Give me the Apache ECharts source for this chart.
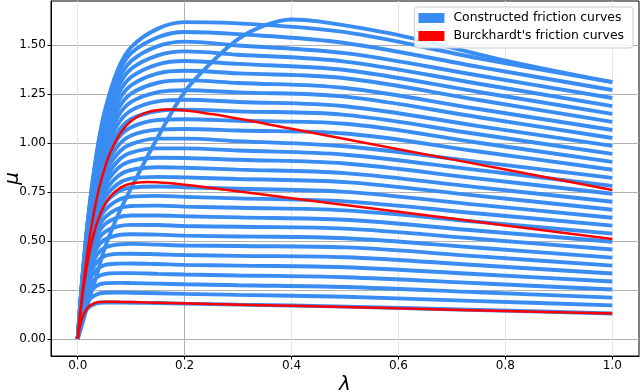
<!DOCTYPE html>
<html>
<head>
<meta charset="utf-8">
<script src="https://cdn.jsdelivr.net/npm/echarts@6/dist/echarts.min.js"></script>
<style>
  html, body { margin: 0; padding: 0; background: #fff; }
  #chart { width: 640px; height: 392px; }
</style>
</head>
<body>
<div id="chart"></div>
<script>
// slip grid shared by the constructed (blue) curves
const lamBlue = [0, 0.005, 0.01, 0.02, 0.035, 0.05, 0.075, 0.1, 0.15, 0.2, 0.3, 0.5, 0.75, 1.0]
// one row per constructed friction curve (bottom to top)
const blueCurves = [
  [0, 0.071, 0.116, 0.160, 0.181, 0.186, 0.186, 0.185, 0.183, 0.180, 0.175, 0.165, 0.148, 0.130],
  [0, 0.083, 0.137, 0.196, 0.227, 0.236, 0.237, 0.236, 0.233, 0.230, 0.225, 0.215, 0.193, 0.171],
  [0, 0.094, 0.157, 0.229, 0.271, 0.284, 0.286, 0.285, 0.282, 0.279, 0.274, 0.265, 0.238, 0.211],
  [0, 0.103, 0.175, 0.260, 0.313, 0.331, 0.336, 0.336, 0.332, 0.329, 0.324, 0.315, 0.284, 0.252],
  [0, 0.111, 0.191, 0.288, 0.353, 0.377, 0.384, 0.385, 0.382, 0.378, 0.374, 0.366, 0.330, 0.293],
  [0, 0.118, 0.204, 0.314, 0.391, 0.422, 0.434, 0.435, 0.432, 0.428, 0.424, 0.417, 0.376, 0.334],
  [0, 0.124, 0.216, 0.338, 0.427, 0.465, 0.482, 0.485, 0.481, 0.477, 0.474, 0.467, 0.421, 0.374],
  [0, 0.129, 0.226, 0.358, 0.461, 0.506, 0.529, 0.534, 0.532, 0.527, 0.523, 0.514, 0.465, 0.415],
  [0, 0.131, 0.233, 0.375, 0.490, 0.544, 0.574, 0.582, 0.581, 0.576, 0.572, 0.563, 0.510, 0.456],
  [0, 0.135, 0.241, 0.392, 0.519, 0.583, 0.620, 0.630, 0.630, 0.626, 0.620, 0.608, 0.552, 0.496],
  [0, 0.137, 0.247, 0.406, 0.545, 0.617, 0.664, 0.678, 0.680, 0.675, 0.669, 0.656, 0.597, 0.537],
  [0, 0.141, 0.255, 0.423, 0.573, 0.654, 0.708, 0.726, 0.730, 0.725, 0.717, 0.702, 0.640, 0.578],
  [0, 0.144, 0.262, 0.438, 0.598, 0.687, 0.750, 0.772, 0.778, 0.774, 0.766, 0.750, 0.684, 0.618],
  [0, 0.146, 0.267, 0.450, 0.623, 0.719, 0.791, 0.819, 0.827, 0.824, 0.816, 0.800, 0.730, 0.659],
  [0, 0.148, 0.271, 0.460, 0.641, 0.748, 0.830, 0.862, 0.876, 0.873, 0.864, 0.846, 0.773, 0.700],
  [0, 0.150, 0.276, 0.472, 0.664, 0.778, 0.870, 0.907, 0.924, 0.923, 0.914, 0.895, 0.818, 0.741],
  [0, 0.152, 0.280, 0.481, 0.683, 0.805, 0.907, 0.950, 0.972, 0.972, 0.961, 0.940, 0.861, 0.781],
  [0, 0.155, 0.287, 0.496, 0.706, 0.836, 0.946, 0.994, 1.022, 1.022, 1.009, 0.983, 0.903, 0.822],
  [0, 0.158, 0.293, 0.507, 0.727, 0.865, 0.984, 1.038, 1.068, 1.071, 1.063, 1.048, 0.956, 0.863],
  [0, 0.160, 0.298, 0.518, 0.747, 0.893, 1.022, 1.080, 1.117, 1.121, 1.113, 1.098, 1.001, 0.903],
  [0, 0.162, 0.302, 0.528, 0.765, 0.917, 1.055, 1.122, 1.163, 1.170, 1.161, 1.143, 1.044, 0.944],
  [0, 0.166, 0.310, 0.543, 0.789, 0.949, 1.095, 1.166, 1.212, 1.220, 1.209, 1.187, 1.086, 0.985],
  [0, 0.170, 0.317, 0.558, 0.813, 0.979, 1.134, 1.209, 1.259, 1.269, 1.258, 1.236, 1.131, 1.025],
  [0, 0.173, 0.324, 0.571, 0.835, 1.009, 1.172, 1.252, 1.307, 1.319, 1.306, 1.280, 1.173, 1.066],
  [0, 0.177, 0.332, 0.584, 0.856, 1.038, 1.208, 1.294, 1.355, 1.368, 1.355, 1.330, 1.219, 1.107],
  [0, 0.180, 0.338, 0.597, 0.877, 1.066, 1.245, 1.336, 1.401, 1.418, 1.403, 1.372, 1.260, 1.148],
  [0, 0.183, 0.344, 0.608, 0.897, 1.092, 1.281, 1.378, 1.447, 1.467, 1.450, 1.415, 1.302, 1.188],
  [0, 0.186, 0.349, 0.620, 0.916, 1.120, 1.315, 1.418, 1.494, 1.517, 1.497, 1.458, 1.344, 1.229],
  [0, 0.188, 0.354, 0.630, 0.935, 1.143, 1.349, 1.458, 1.539, 1.566, 1.555, 1.510, 1.388, 1.270],
  [0, 0.187, 0.352, 0.630, 0.940, 1.156, 1.373, 1.489, 1.583, 1.616, 1.610, 1.565, 1.432, 1.310]
]
// the slow-rising constructed curve that forms the diagonal ridge and the top
const lamRidge = [0, 0.01, 0.02, 0.035, 0.05, 0.075, 0.1, 0.15, 0.2, 0.25, 0.3, 0.35, 0.4, 0.45, 0.6, 0.8, 1.0]
const ridgeCurve = [0, 0.09, 0.19, 0.32, 0.46, 0.63, 0.77, 1.03, 1.26, 1.41, 1.53, 1.60, 1.63, 1.62, 1.55, 1.42, 1.31]

// Burckhardt curves (dry asphalt, wet asphalt, snow)
const lamRed = [0, 0.005, 0.01, 0.02, 0.03, 0.04, 0.05, 0.06, 0.08, 0.1, 0.13, 0.17, 0.25, 0.4, 0.6, 0.8, 1.0]
const redDry = [0, 0.142, 0.268, 0.477, 0.641, 0.769, 0.868, 0.945, 1.051, 1.112, 1.156, 1.170, 1.147, 1.072, 0.968, 0.864, 0.760]
const redWet = [0, 0.132, 0.243, 0.414, 0.536, 0.622, 0.682, 0.724, 0.772, 0.793, 0.801, 0.795, 0.770, 0.718, 0.649, 0.579, 0.510]
const redSnow = [0, 0.073, 0.118, 0.164, 0.181, 0.188, 0.190, 0.190, 0.189, 0.188, 0.186, 0.184, 0.178, 0.169, 0.156, 0.143, 0.130]

// tick labels
const xTicks = [0, 0.2, 0.4, 0.6, 0.8, 1.0]
const yTicks = [0, 0.25, 0.5, 0.75, 1.0, 1.25, 1.5]

const BLUE_NAME = 'Constructed friction curves'
const RED_NAME = "Burckhardt's friction curves"
const BLUE = '#388cf2'
const RED = '#ff0000'

function pairs(lam, vals) {
  return lam.map((x, i) => [x, vals[i]])
}

function blueSeries(lam, vals) {
  return {
    name: BLUE_NAME,
    type: 'line',
    data: pairs(lam, vals),
    smooth: 0.35,
    showSymbol: false,
    symbol: 'none',
    color: BLUE,
    lineStyle: { color: BLUE, width: 3.9 },
    z: 2,
    silent: true
  }
}

function redSeries(vals) {
  return {
    name: RED_NAME,
    type: 'line',
    data: pairs(lamRed, vals),
    smooth: 0.35,
    showSymbol: false,
    symbol: 'none',
    color: RED,
    lineStyle: { color: RED, width: 2.5 },
    z: 3,
    silent: true
  }
}

const series = blueCurves.map(c => blueSeries(lamBlue, c))
series.push(blueSeries(lamRidge, ridgeCurve))
series.push(redSeries(redDry), redSeries(redWet), redSeries(redSnow))

const font = 'DejaVu Sans'
const light = '#e6e6e6'
const chart = echarts.init(document.getElementById('chart'), null, { renderer: 'canvas' })

chart.setOption({
  animation: false,
  backgroundColor: '#fff',
  grid: {
    left: 51, right: 1, top: 1, bottom: 36,
    containLabel: false,
    outerBoundsMode: 'none',
    show: true, borderColor: '#000', borderWidth: 1
  },
  legend: {
    right: 7,
    top: 7,
    orient: 'vertical',
    icon: 'rect',
    itemWidth: 26,
    itemHeight: 10,
    itemGap: 6,
    padding: [5, 9, 6, 4],
    backgroundColor: 'rgba(255,255,255,0.85)',
    borderColor: '#cccccc',
    borderWidth: 1,
    borderRadius: 3,
    textStyle: { fontFamily: font, fontSize: 12.4, color: '#000', padding: [0, 0, 0, 4] },
    data: [BLUE_NAME, RED_NAME]
  },
  xAxis: {
    type: 'value',
    min: -0.05,
    max: 1.05,
    name: 'λ',
    nameLocation: 'middle',
    nameGap: 19,
    nameMoveOverlap: false,
    nameTextStyle: { fontFamily: font, fontSize: 20, fontStyle: 'italic', color: '#000' },
    axisLine: { onZero: false, lineStyle: { color: '#000', width: 1 } },
    axisTick: { show: true, length: 3.5, lineStyle: { color: '#000' }, customValues: xTicks },
    axisLabel: {
      customValues: xTicks,
      margin: 4,
      fontFamily: font, fontSize: 12, color: '#000',
      formatter: v => v.toFixed(1)
    },
    splitLine: {
      show: true,
      lineStyle: { color: [light, '#b0b0b0', light, light, light, light], width: 1 }
    }
  },
  yAxis: {
    type: 'value',
    min: -0.087,
    max: 1.724,
    name: 'μ',
    nameLocation: 'middle',
    nameGap: 28,
    nameRotate: 90,
    nameMoveOverlap: false,
    nameTextStyle: { fontFamily: font, fontSize: 20, fontStyle: 'italic', color: '#000' },
    axisLine: { show: true, onZero: false, lineStyle: { color: '#000', width: 1 } },
    axisTick: { show: true, length: 3.5, lineStyle: { color: '#000' }, customValues: yTicks },
    axisLabel: {
      customValues: yTicks,
      margin: 5,
      fontFamily: font, fontSize: 12, color: '#000',
      formatter: v => v.toFixed(2)
    },
    splitLine: { show: true, lineStyle: { color: '#b0b0b0', width: 1 } }
  },
  series: series
})
</script>
</body>
</html>
